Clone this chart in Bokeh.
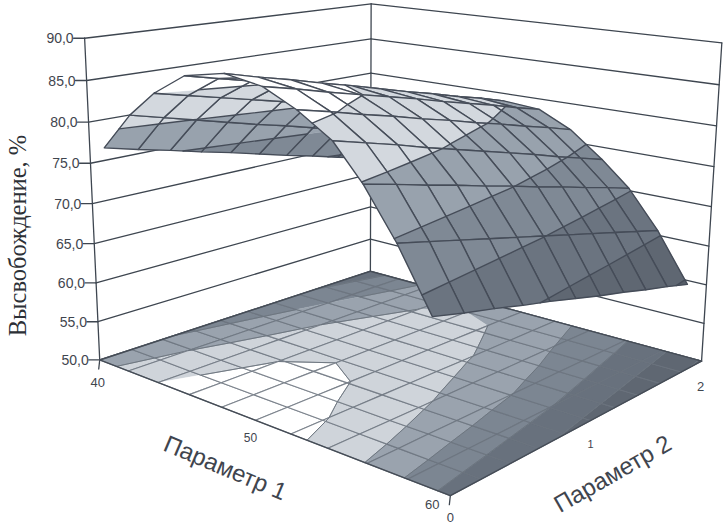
import numpy as np
from bokeh.plotting import figure
from bokeh.models import Range1d, ColumnDataSource
from bokeh.core.properties import value
from bokeh.embed import file_html
from bokeh.resources import INLINE

# ---- data ----
z_ticks = [50, 55, 60, 65, 70, 75, 80, 85, 90]
p1_ticks = [40, 50, 60]
p2_ticks = [0, 1, 2]
p1_grid = [40, 42, 44, 46, 48, 50, 52, 54, 56, 58, 60]
p2_grid = [0.0, 0.2, 0.4, 0.6, 0.8, 1.0, 1.2, 1.4, 1.6, 1.8, 2.0]
# where the drawn surface sits over the floor (it is inset in the original)
p1_surface = [41.0, 42.8, 44.4, 46.3, 48.6, 50.7, 52.5, 54.3, 55.8, 57.4, 59.06]

z_p1_40 = [77.3, 76.3, 75.4, 74.4, 73.5, 72.5, 71.5, 70.6, 69.6, 68.7, 67.7]
z_p1_42 = [81.9, 80.9, 79.9, 78.9, 77.9, 77.0, 76.0, 75.0, 74.0, 73.0, 72.0]
z_p1_44 = [85.0, 84.1, 83.2, 82.3, 81.4, 80.5, 79.6, 78.7, 77.8, 76.9, 76.0]
z_p1_46 = [87.6, 86.7, 85.8, 84.9, 84.0, 83.1, 82.1, 81.2, 80.3, 79.4, 78.5]
z_p1_48 = [88.6, 87.6, 86.7, 85.7, 84.8, 83.8, 82.8, 81.9, 80.9, 80.0, 79.0]
z_p1_50 = [87.9, 87.0, 86.0, 85.1, 84.2, 83.3, 82.3, 81.4, 80.5, 79.5, 78.6]
z_p1_52 = [86.1, 85.2, 84.2, 83.3, 82.3, 81.4, 80.4, 79.5, 78.5, 77.6, 76.6]
z_p1_54 = [83.6, 82.6, 81.6, 80.5, 79.5, 78.5, 77.5, 76.5, 75.4, 74.4, 73.4]
z_p1_56 = [79.8, 78.9, 77.9, 77.0, 76.0, 75.1, 74.1, 73.2, 72.2, 71.3, 70.3]
z_p1_58 = [74.6, 73.7, 72.8, 71.9, 71.0, 70.1, 69.2, 68.3, 67.4, 66.5, 65.6]
z_p1_60 = [68.1, 67.2, 66.4, 65.5, 64.7, 63.8, 62.9, 62.1, 61.2, 60.4, 59.5]
Z = np.array([z_p1_40, z_p1_42, z_p1_44, z_p1_46, z_p1_48, z_p1_50,
              z_p1_52, z_p1_54, z_p1_56, z_p1_58, z_p1_60])

band_edges = [0, 60, 65, 70, 75, 80, 85, 200]
band_colors = ["#565d68", "#5f6772", "#6b7480", "#7f8995", "#98a2ad", "#d3d8de", "#ffffff"]
floor_colors = ["#565d68", "#5f6772", "#68717d", "#7c8692", "#9aa3ae", "#cfd4da", "#ffffff"]

# ---- camera: box corners as they appear on the page ----
cam_world = [(40, 0, 50), (60, 0, 50), (60, 2, 50), (40, 2, 50), (40, 0, 90), (40, 2, 90), (60, 2, 90), (60, 0, 90)]
cam_page = [(99, 359), (450, 496), (701, 359), (370, 272), (85, 36), (370, 4), (722, 42), (456, 99)]


def norm(a, b, c):
    return (a - 40) / 20.0, b / 2.0, (c - 50) / 40.0


rows = []
for (a, b, c), (u, v) in zip(cam_world, cam_page):
    X, Y, W = norm(a, b, c)
    rows.append([X, Y, W, 1, 0, 0, 0, 0, -u * X, -u * Y, -u * W, -u])
    rows.append([0, 0, 0, 0, X, Y, W, 1, -v * X, -v * Y, -v * W, -v])
P = np.linalg.svd(np.array(rows, float))[2][-1].reshape(3, 4)
if P[2] @ np.array([0, 0, 0, 1.0]) < 0:
    P = -P


def hom(a, b, c):
    X, Y, W = norm(a, b, c)
    return P @ np.array([X, Y, W, 1.0])


def proj(a, b, c):
    h = hom(a, b, c)
    return h[0] / h[2], h[1] / h[2]


def clip(poly, level, keep_above):
    out = []
    n = len(poly)
    for k in range(n):
        s, e = poly[k], poly[(k + 1) % n]
        ds, de = s[2] - level, e[2] - level
        if not keep_above:
            ds, de = -ds, -de
        if ds >= 0:
            out.append(s)
        if (ds >= 0) != (de >= 0):
            t = ds / (ds - de)
            out.append(tuple(s[m] + t * (e[m] - s[m]) for m in range(3)))
    return out


xs, ys, fc, fa, lc, lw, la = [], [], [], [], [], [], []


def add(pts, fill=None, line=None, width=1.0, alpha=1.0):
    xs.append([q[0] for q in pts])
    ys.append([q[1] for q in pts])
    fc.append(fill if fill else "#000000")
    fa.append(1.0 if fill else 0.0)
    lc.append(line if line else (fill if fill else "#000000"))
    lw.append(width)
    la.append(alpha)


def crossings(poly, level):
    out = []
    n = len(poly)
    for k in range(n):
        s, e = poly[k], poly[(k + 1) % n]
        if (s[2] - level) * (e[2] - level) < 0:
            t = (level - s[2]) / (e[2] - s[2])
            out.append(tuple(s[m] + t * (e[m] - s[m]) for m in range(3)))
    return out


def draw_cell(poly, to_page, colors, grid_col, grid_w, bnd_col, bnd_w, grid_alpha=1.0):
    for b in range(len(colors)):
        piece = clip(clip(poly, band_edges[b], True), band_edges[b + 1], False)
        if len(piece) >= 3:
            add([to_page(q) for q in piece], fill=colors[b], width=0.4)
    for lev in band_edges[1:-1]:
        c = crossings(poly, lev)
        for k in range(0, len(c) - 1, 2):
            add([to_page(c[k]), to_page(c[k + 1])], line=bnd_col, width=bnd_w)
    add([to_page(q) for q in poly], line=grid_col, width=grid_w, alpha=grid_alpha)


# walls
wall = "#3e4650"
wall_w = 1.3
for z in z_ticks:
    add([proj(40, 0, z), proj(40, 2, z)], line=wall, width=wall_w)
    add([proj(40, 2, z), proj(60, 2, z)], line=wall, width=wall_w)
    ax, ay = proj(40, 0, z)
    add([(ax - 11, ay), (ax, ay)], line=wall, width=wall_w)
add([proj(40, 0, 50), proj(40, 0, 90)], line=wall, width=wall_w)
add([proj(40, 2, 50), proj(40, 2, 90)], line=wall, width=wall_w)
add([proj(60, 2, 50), proj(60, 2, 90)], line=wall, width=wall_w)
for a, b in [(40, 0), (60, 0)]:
    tx, ty = proj(a, b, 50)
    add([(tx, ty), (tx - 1, ty + 9)], line=wall, width=wall_w)

# floor: contour map of the same table
n = len(p1_grid)
for i in range(n - 1):
    for j in range(n - 1):
        poly = [(p1_grid[i], p2_grid[j], Z[i, j]), (p1_grid[i + 1], p2_grid[j], Z[i + 1, j]),
                (p1_grid[i + 1], p2_grid[j + 1], Z[i + 1, j + 1]), (p1_grid[i], p2_grid[j + 1], Z[i, j + 1])]
        draw_cell(poly, lambda q: proj(q[0], q[1], 50), floor_colors, "#6b737e", 1.1, "#6b737e", 0.8, 0.85)
for s, e in [((40, 0), (60, 0)), ((60, 0), (60, 2)), ((60, 2), (40, 2)), ((40, 2), (40, 0))]:
    add([proj(s[0], s[1], 50), proj(e[0], e[1], 50)], line="#454c56", width=1.4)

# surface, painted from the far cells to the near ones
cells = []
for i in range(n - 1):
    for j in range(n - 1):
        idx = [(i, j), (i + 1, j), (i + 1, j + 1), (i, j + 1)]
        depth = np.mean([hom(p1_surface[a], p2_grid[b], Z[a, b])[2] for a, b in idx])
        cells.append((depth, idx))
cells.sort(key=lambda c: -c[0])
for _, idx in cells:
    poly = [(p1_surface[a], p2_grid[b], Z[a, b]) for a, b in idx]
    draw_cell(poly, lambda q: proj(q[0], q[1], q[2]), band_colors, "#454c58", 1.4, "#454c58", 1.4)

p = figure(width=727, height=528, x_range=Range1d(0, 727), y_range=Range1d(528, 0),
           x_axis_type=None, y_axis_type=None, toolbar_location=None, output_backend="svg",
           min_border=0, outline_line_color=None, background_fill_color="#ffffff")
p.grid.visible = False
p.patches("xs", "ys", source=ColumnDataSource(dict(xs=xs, ys=ys, fc=fc, fa=fa, lc=lc, lw=lw, la=la)),
          fill_color="fc", fill_alpha="fa", line_color="lc", line_width="lw", line_alpha="la",
          line_join="round")

txt = "#3f454e"
# value axis labels
lx, ly, lt = [], [], []
for z in z_ticks:
    ax, ay = proj(40, 0, z)
    lx.append(ax - 11)
    ly.append(ay)
    lt.append(f"{z},0")
p.text(lx, ly, text=lt, text_align="right", text_baseline="middle", text_color=txt,
       text_font=value("Liberation Sans"), text_font_size="14px")

# floor axis labels
for (a, b, lab, dx, dy, sz) in [
    (40, 0, str(p1_ticks[0]), -2, 23, 13), (50, 0, str(p1_ticks[1]), -5, 17, 12), (60, 0, str(p1_ticks[2]), -18, 9, 13),
    (60, 0, str(p2_ticks[0]), 0, 22, 13), (60, 1, str(p2_ticks[1]), 0, 23, 11), (60, 2, str(p2_ticks[2]), -1, 25, 13),
]:
    tx, ty = proj(a, b, 50)
    p.text([tx + dx], [ty + dy], text=[lab], text_align="center", text_baseline="middle", text_color=txt,
           text_font=value("Liberation Sans"), text_font_size=f"{sz}px")

p.text([225], [467], text=["Параметр 1"], angle=-0.40, text_align="center", text_baseline="middle",
       text_color=txt, text_font=value("Liberation Sans"), text_font_size="24px")
p.text([612], [473], text=["Параметр 2"], angle=0.52, text_align="center", text_baseline="middle",
       text_color=txt, text_font=value("Liberation Sans"), text_font_size="24px")
p.text([17], [235], text=["Высвобождение, %"], angle=np.pi / 2, text_align="center", text_baseline="middle",
       text_color="#2c3036", text_font=value("Liberation Serif"), text_font_size="24.5px")

open("out.html", "w").write(file_html(p, INLINE))
